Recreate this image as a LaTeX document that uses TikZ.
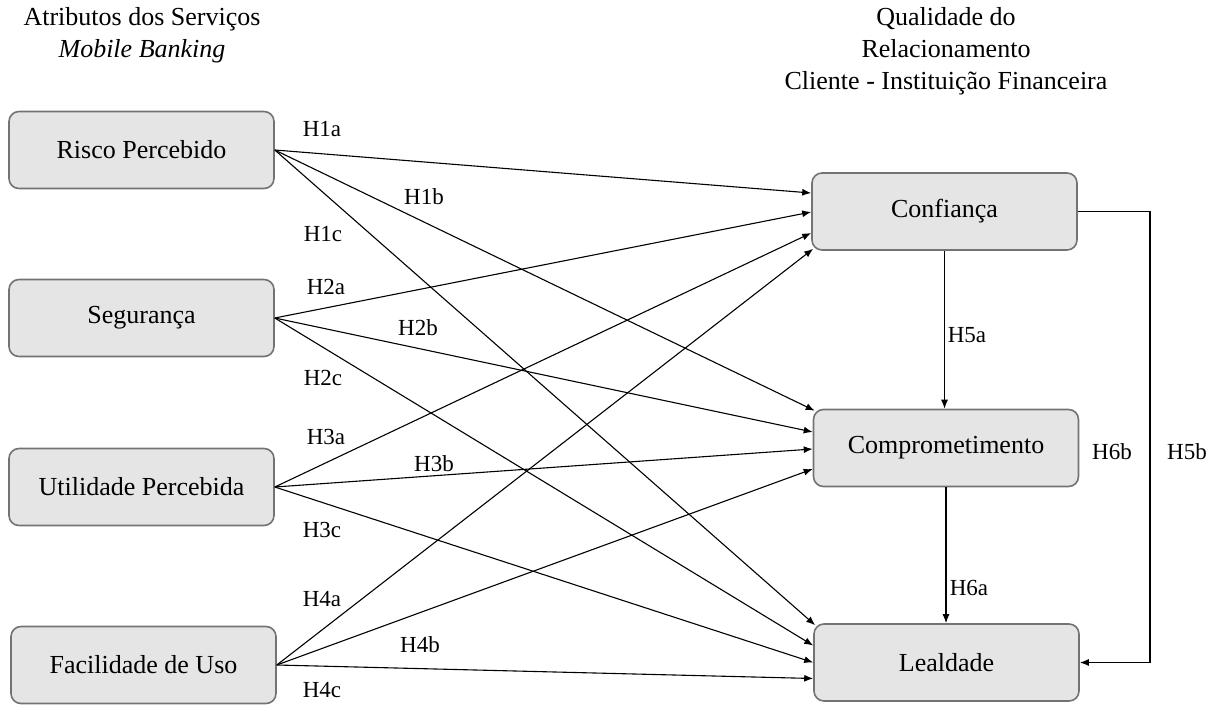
\documentclass[tikz,border=0pt]{standalone}
\usepackage{fontspec}
\setmainfont{Liberation Serif}
\usetikzlibrary{arrows.meta,calc}
\begin{document}
\begin{tikzpicture}[x=1pt,y=-1pt,
  box/.style={draw=black!55,line width=1.6pt,fill=black!10,rounded corners=10pt,
    minimum width=265pt,minimum height=77pt,inner sep=0pt,
    font=\fontsize{26}{32}\selectfont},
  arr/.style={line width=1.1pt,-{Latex[length=9pt,width=7pt]}},
  lab/.style={inner sep=0pt,font=\fontsize{23}{28}\selectfont},
  ttl/.style={inner sep=0pt,align=center,font=\fontsize{26}{32}\selectfont}]
\useasboundingbox (0,0) rectangle (1218,706);
% titles
\node[ttl] (tl) at (142,35) {Atributos dos Serviços\\\textit{Mobile Banking}};
\node[ttl] (tr) at (946,51) {Qualidade do\\Relacionamento\\Cliente - Instituição Financeira};
% boxes
\node[box] (risco) at (141.5,150) {Risco Percebido};
\node[box] (seg) at (141.5,318) {Segurança};
\node[box] (util) at (141.5,487) {Utilidade Percebida};
\node[box] (facil) at (143.5,665) {Facilidade de Uso};
\node[box] (conf) at (944.5,211.5) {Confiança};
\node[box] (comp) at (946,448) {Comprometimento};
\node[box] (leal) at (946.5,662.5) {Lealdade};
% target points
\coordinate (c1) at ($(conf.west)+(0,-18.5)$);
\coordinate (c2) at ($(conf.west)+(0,0.5)$);
\coordinate (c3) at ($(conf.west)+(0,21.5)$);
\coordinate (c4) at ($(conf.south west)+(2,-2)$);
\coordinate (m1) at ($(comp.north west)+(2,2)$);
\coordinate (m2) at ($(comp.west)+(0,-16)$);
\coordinate (m3) at ($(comp.west)+(0,1)$);
\coordinate (m4) at ($(comp.west)+(0,21)$);
\coordinate (l1) at ($(leal.north west)+(2,2)$);
\coordinate (l2) at ($(leal.west)+(0,-17)$);
\coordinate (l3) at ($(leal.west)+(0,0)$);
\coordinate (l4) at ($(leal.west)+(0,16)$);
% connectors
\draw[arr] (risco.east) -- (c1);
\draw[arr] (risco.east) -- (m1);
\draw[arr] (risco.east) -- (l1);
\draw[arr] (seg.east) -- (c2);
\draw[arr] (seg.east) -- (m2);
\draw[arr] (seg.east) -- (l2);
\draw[arr] (util.east) -- (c3);
\draw[arr] (util.east) -- (m3);
\draw[arr] (util.east) -- (l3);
\draw[arr] (facil.east) -- (c4);
\draw[arr] (facil.east) -- (m4);
\draw[arr] (facil.east) -- (l4);
\draw[arr] (conf.south) -- (conf.south |- comp.north);
\draw[arr] (comp.south) -- (comp.south |- leal.north);
\coordinate (r1) at (1150,211.5);
\draw[arr] (conf.east) -- (conf.east -| r1) |- (leal.east);
% labels
\node[lab] (h1a) at (322,129) {H1a};
\node[lab] (h1b) at (424,197) {H1b};
\node[lab] (h1c) at (323,234) {H1c};
\node[lab] (h2a) at (326,287) {H2a};
\node[lab] (h2b) at (418,328) {H2b};
\node[lab] (h2c) at (323,378) {H2c};
\node[lab] (h3a) at (326,437) {H3a};
\node[lab] (h3b) at (434,464) {H3b};
\node[lab] (h3c) at (322,530) {H3c};
\node[lab] (h4a) at (322,599) {H4a};
\node[lab] (h4b) at (420,645) {H4b};
\node[lab] (h4c) at (322,690) {H4c};
\node[lab] (h5a) at (967,335) {H5a};
\node[lab] (h6a) at (969,588) {H6a};
\node[lab] (h6b) at (1112,452) {H6b};
\node[lab] (h5b) at (1187,452) {H5b};
\end{tikzpicture}
\end{document}
